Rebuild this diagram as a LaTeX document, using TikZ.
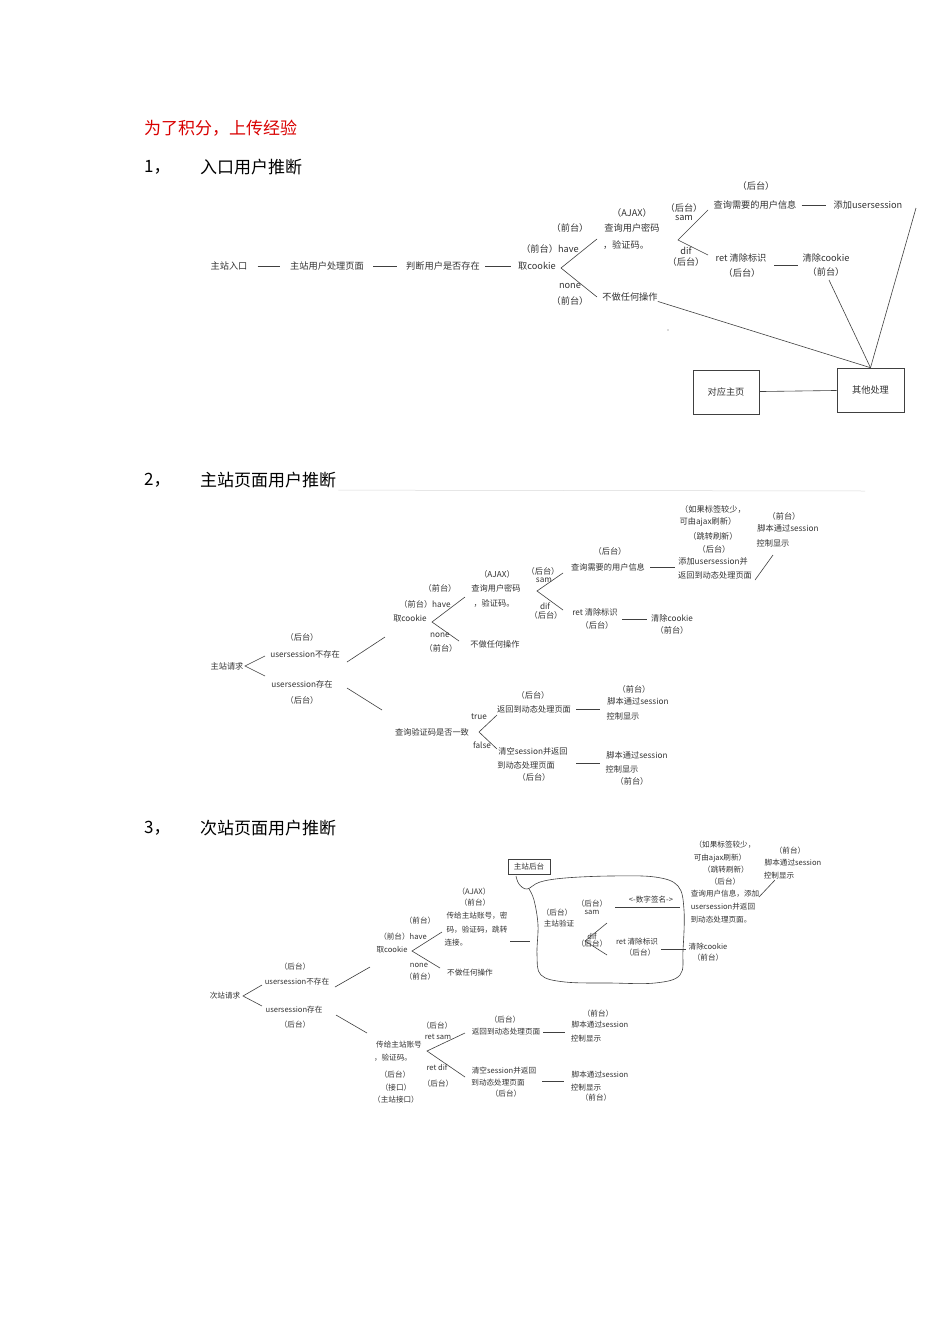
\documentclass[tikz,border=0pt]{standalone}
\usepackage{fontspec}
\setmainfont{Noto Sans CJK SC}
\begin{document}
\begin{tikzpicture}[x=1pt,y=-1pt,
  base/.style={inner sep=0pt,text=black!80},
  sa/.style={base,font=\fontsize{9.2}{10}\selectfont},
  sb/.style={base,font=\fontsize{8.2}{9}\selectfont},
  sc/.style={base,font=\fontsize{7.6}{8.5}\selectfont},
  ttl/.style={base,font=\fontsize{17}{19}\selectfont,text=black},
  ln/.style={draw=black!75,line width=0.6pt},
  bx/.style={draw=black!75,line width=0.6pt,inner sep=0pt}]
\useasboundingbox[fill=white] (0,0) rectangle (950,1344);
\newcommand\A[4]{\node[sa] (#1) at (#2,#3) {#4};}
\newcommand\B[4]{\node[sb] (#1) at (#2,#3) {#4};}
\newcommand\C[4]{\node[sc] (#1) at (#2,#3) {#4};}
% titles
\node[ttl,text=red!85!black,anchor=west] (t0) at (144,128) {为了积分，上传经验};
\node[ttl,anchor=west] (t1n) at (144,167) {1，};
\node[ttl,anchor=west] (t1) at (200,167) {入口用户推断};
\node[ttl,anchor=west] (t2n) at (144,480) {2，};
\node[ttl,anchor=west] (t2) at (200,480) {主站页面用户推断};
\node[ttl,anchor=west] (t3n) at (144,828) {3，};
\node[ttl,anchor=west] (t3) at (200,828) {次站页面用户推断};
\draw[black!15,line width=0.5pt] (t2.south east) ++(2,2) coordinate (g1) -- (865,491) coordinate (g2);
% ---------- section 1
\A{a1}{229}{266}{主站入口}
\A{a2}{327}{266}{主站用户处理页面}
\A{a3}{443}{266}{判断用户是否存在}
\A{a4}{537}{266}{取cookie}
\draw[ln] (a1.east)++(10,0) -- ([xshift=-10pt]a2.west);
\draw[ln] (a2.east)++(9,0) -- ([xshift=-9pt]a3.west);
\draw[ln] (a3.east)++(5,0) -- ([xshift=-7pt]a4.west);
\A{a5}{550}{249}{（前台）have}
\A{a6}{570}{228}{（前台）}
\A{a7}{570}{286}{none}
\A{a8}{570}{301}{（前台）}
\draw[ln] (597,239) -- (561,268) -- (597,297);
\A{a9}{632}{213}{（AJAX）}
\A{a10}{632}{228}{查询用户密码}
\A{a11}{626}{245}{，验证码。}
\A{a12}{630}{297}{不做任何操作}
\A{a13}{684}{208}{（后台）}
\A{a14}{684}{218}{sam}
\A{a15}{686}{251}{dif}
\A{a16}{686}{262}{（后台）}
\draw[ln] (708,210) -- (678,240) -- (708,255);
\A{a17}{756}{186}{（后台）}
\A{a18}{755}{205}{查询需要的用户信息}
\A{a19}{868}{205}{添加usersession}
\draw[ln] (a18.east)++(5,0) -- ([xshift=-7pt]a19.west);
\A{a20}{741}{258}{ret 清除标识}
\A{a21}{742}{273}{（后台）}
\A{a22}{826}{258}{清除cookie}
\A{a23}{826}{272}{（前台）}
\draw[ln] (774,265) -- (798,265);
\node[bx,minimum width=66pt,minimum height=44pt,sa] (a24) at (726,392) {对应主页};
\node[bx,minimum width=67pt,minimum height=44pt,sa] (a25) at (870.5,390) {其他处理};
\draw[ln] (a24) -- (a25);
\draw[ln] (a12.south east) -- (a25.north);
\draw[ln] (829,280) -- (a25.north);
\draw[ln] (916,208) -- (a25.north);
\fill[black!60] (668,330) circle (0.6);
% ---------- section 2
\B{b1}{227}{666}{主站请求}
\draw[ln] (265,656) -- (245,666) -- (265,676);
\B{b2}{302}{637}{（后台）}
\B{b3}{305}{654}{usersession不存在}
\B{b4}{302}{684}{usersession存在}
\B{b5}{302}{700}{（后台）}
\draw[ln] (347,662) -- (385,637);
\draw[ln] (347,688) -- (382,710);
\B{b6}{440}{588}{（前台）}
\B{b7}{425}{604}{（前台）have}
\B{b8}{410}{619}{取cookie}
\B{b9}{440}{635}{none}
\B{b10}{441}{648}{（前台）}
\draw[ln] (465,597) -- (432,622) -- (459,641);
\B{b11}{497}{574}{（AJAX）}
\B{b12}{496}{588}{查询用户密码}
\B{b13}{494}{603}{，验证码。}
\B{b14}{495}{644}{不做任何操作}
\B{b15}{543}{571}{（后台）}
\B{b16}{544}{580}{sam}
\B{b17}{545}{606}{dif}
\B{b18}{546}{615}{（后台）}
\draw[ln] (563,573) -- (537,591) -- (563,610);
\B{b19}{610}{551}{（后台）}
\B{b20}{608}{567}{查询需要的用户信息}
\draw[ln] (650,567) -- (675,567);
\B{b21}{713}{509}{（如果标签较少，}
\B{b22}{708}{522}{可由ajax刷新）}
\B{b23}{713}{536}{（跳转刷新）}
\B{b24}{714}{549}{（后台）}
\B{b25}{713}{561}{添加usersession并}
\B{b26}{715}{575}{返回到动态处理页面}
\B{b27}{784}{516}{（前台）}
\B{b28}{788}{528}{脚本通过session}
\B{b29}{773}{543}{控制显示}
\draw[ln] (755,580) -- (773,555);
\B{b30}{595}{612}{ret 清除标识}
\B{b31}{597}{625}{（后台）}
\draw[ln] (622,619) -- (647,619);
\B{b32}{672}{618}{清除cookie}
\B{b33}{672}{630}{（前台）}
\B{b34}{432}{732}{查询验证码是否一致}
\draw[ln] (497,715) -- (479,732) -- (497,749);
\B{b35}{479}{717}{true}
\B{b36}{482}{745}{false}
\B{b37}{533}{695}{（后台）}
\B{b38}{534}{709}{返回到动态处理页面}
\draw[ln] (576,709) -- (600,709);
\B{b39}{634}{689}{（前台）}
\B{b40}{638}{701}{脚本通过session}
\B{b41}{623}{716}{控制显示}
\B{b42}{533}{751}{清空session并返回}
\B{b43}{526}{765}{到动态处理页面}
\B{b44}{534}{777}{（后台）}
\draw[ln] (576,763) -- (600,763);
\B{b45}{637}{755}{脚本通过session}
\B{b46}{622}{769}{控制显示}
\B{b47}{632}{781}{（前台）}
% ---------- section 3
\C{c1}{225}{996}{次站请求}
\draw[ln] (262,985) -- (243,996) -- (262,1006);
\C{c2}{295}{967}{（后台）}
\C{c3}{297}{982}{usersession不存在}
\C{c4}{294}{1010}{usersession存在}
\C{c5}{295}{1025}{（后台）}
\draw[ln] (335,987) -- (370,967);
\draw[ln] (336,1015) -- (367,1033);
\C{c6}{420}{921}{（前台）}
\C{c7}{403}{937}{（前台）have}
\C{c8}{392}{950}{取cookie}
\C{c9}{419}{965}{none}
\C{c10}{420}{977}{（前台）}
\draw[ln] (442,932) -- (412,951) -- (440,968);
\C{c11}{474}{892}{（AJAX）}
\C{c12}{475}{903}{（前台）}
\C{c13}{477}{916}{传给主站账号，密}
\C{c14}{477}{930}{码，验证码，跳转}
\C{c15}{456}{943}{连接。}
\C{c16}{470}{973}{不做任何操作}
\draw[ln] (510,941) -- (530,941);
\node[bx,sc,minimum width=42pt,minimum height=15pt] (c17) at (529,866.5) {主站后台};
\draw[ln] plot[smooth,tension=0.6] coordinates {(516,876) (519,884) (527,889) (540,882) (565,878) (610,876) (655,877) (678,886) (684,910) (683,950) (680,975) (655,983) (610,983) (565,982) (541,975) (537,955) (538,925) (534,900) (529,889)};
\C{c18}{557}{913}{（后台）}
\C{c19}{559}{924}{主站验证}
\C{c20}{592}{904}{（后台）}
\C{c21}{592}{912}{sam}
\C{c22}{592}{936}{dif}
\C{c23}{592}{944}{（后台）}
\draw[ln] (607,923) -- (585,941) -- (607,955);
\C{c24}{651}{900}{<-数字签名->}
\draw[ln] (615,907) -- (680,907);
\C{c25}{637}{942}{ret 清除标识}
\C{c26}{640}{953}{（后台）}
\draw[ln] (661,949) -- (686,949);
\C{c27}{708}{947}{清除cookie}
\C{c28}{708}{958}{（前台）}
\C{c29}{725}{845}{（如果标签较少，}
\C{c30}{720}{858}{可由ajax刷新）}
\C{c31}{726}{870}{（跳转刷新）}
\C{c32}{725}{882}{（后台）}
\C{c33}{725}{894}{查询用户信息，添加}
\C{c34}{723}{907}{usersession并返回}
\C{c35}{721}{920}{到动态处理页面。}
\C{c36}{790}{851}{（前台）}
\C{c37}{793}{863}{脚本通过session}
\C{c38}{779}{876}{控制显示}
\draw[ln] (759,897) -- (775,880);
\C{c39}{399}{1045}{传给主站账号}
\C{c40}{393}{1058}{，验证码。}
\C{c41}{395}{1075}{（后台）}
\C{c42}{396}{1088}{（接口）}
\C{c43}{396}{1100}{（主站接口）}
\C{c44}{437}{1026}{（后台）}
\C{c45}{438}{1037}{ret sam}
\C{c46}{437}{1067}{ret dif}
\C{c47}{438}{1084}{（后台）}
\draw[ln] (465,1033) -- (427,1051) -- (465,1077);
\C{c48}{505}{1020}{（后台）}
\C{c49}{506}{1032}{返回到动态处理页面}
\draw[ln] (543,1032) -- (565,1032);
\C{c50}{598}{1014}{（前台）}
\C{c51}{600}{1025}{脚本通过session}
\C{c52}{586}{1039}{控制显示}
\C{c53}{504}{1071}{清空session并返回}
\C{c54}{498}{1083}{到动态处理页面}
\C{c55}{506}{1094}{（后台）}
\draw[ln] (542,1081) -- (564,1081);
\C{c56}{600}{1075}{脚本通过session}
\C{c57}{586}{1088}{控制显示}
\C{c58}{596}{1098}{（前台）}
\end{tikzpicture}
\end{document}
